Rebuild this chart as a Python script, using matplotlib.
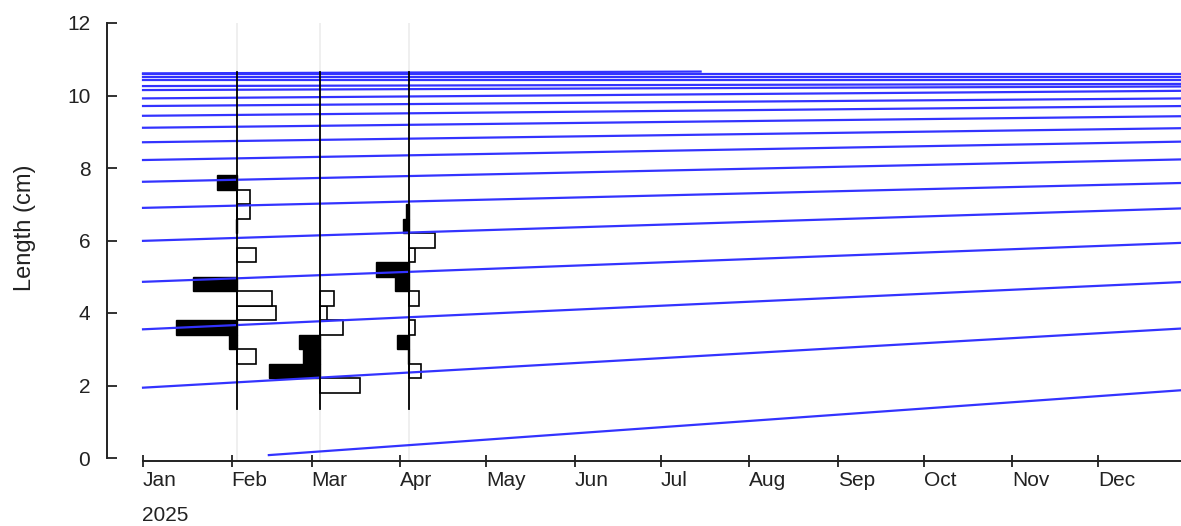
import numpy as np
import matplotlib
matplotlib.use('Agg')
import matplotlib.pyplot as plt
import matplotlib.dates as mdates

plt.rcParams['font.family'] = ['Liberation Sans', 'DejaVu Sans']

# length classes (mid points, cm), 0.4 cm wide
length_mids = [1.6, 2.0, 2.4, 2.8, 3.2, 3.6, 4.0, 4.4, 4.8, 5.2, 5.6, 6.0,
               6.4, 6.8, 7.2, 7.6, 8.0, 8.4, 8.8, 9.2, 9.6, 10.0, 10.4]
bin_width = 0.4

# restructured frequency scores per sampling date
sample_dates = ['2025-02-03', '2025-03-04', '2025-04-04']
score_feb = [0, 0, 0, 0.31, -0.13, -1.0, 0.63, 0.56, -0.73, 0, 0.31, 0,
             -0.03, 0.20, 0.21, -0.33, 0, 0, 0, 0, 0, 0, 0]
score_mar = [0, 0.65, -0.84, -0.28, -0.34, 0.37, 0.11, 0.22, 0, 0, 0, 0,
             0, 0, 0, 0, 0, 0, 0, 0, 0, 0, 0]
score_apr = [0, 0, 0.20, -0.02, -0.20, 0.10, 0, 0.16, -0.23, -0.53, 0.10, 0.42,
             -0.10, -0.04, 0, 0, 0, 0, 0, 0, 0, 0, 0]
scores = [score_feb, score_mar, score_apr]

# cohort growth curves (start/end date and length)
curve_start_dates = ['2025-02-14'] + ['2025-01-01'] * 18
curve_end_dates = ['2026-01-01'] * 18 + ['2025-07-15']
curve_start_len = [0.08, 1.94, 3.55, 4.86, 5.99, 6.90, 7.62, 8.22, 8.71, 9.11,
                   9.44, 9.71, 9.92, 10.15, 10.26, 10.43, 10.50, 10.59, 10.61]
curve_end_len = [1.88, 3.58, 4.86, 5.94, 6.89, 7.59, 8.24, 8.73, 9.10, 9.43,
                 9.71, 9.92, 10.13, 10.25, 10.32, 10.43, 10.50, 10.59, 10.66]

month_labels = ['Jan', 'Feb', 'Mar', 'Apr', 'May', 'Jun',
                'Jul', 'Aug', 'Sep', 'Oct', 'Nov', 'Dec']

W, H = 1181, 526
fig = plt.figure(figsize=(W / 100, H / 100), dpi=100)
ax = fig.add_axes([107 / W, (H - 461) / H, 1 - 107 / W, (461 - 23) / H])

jan1 = mdates.date2num(np.datetime64('2025-01-01'))
x_left = jan1 - 12.6
x_right = jan1 + 363.0
score_scale = 21.5  # days per unit score

mids = np.array(length_mids)
for d, sc in zip(sample_dates, scores):
    x0 = mdates.date2num(np.datetime64(d))
    sc = np.array(sc) * score_scale
    ax.axvline(x0, color='#ececec', lw=1.2, zorder=0)
    neg = sc < 0
    pos = sc > 0
    ax.barh(mids[neg], sc[neg], left=x0, height=bin_width,
            color='black', edgecolor='black', lw=1, zorder=2)
    ax.barh(mids[pos], sc[pos], left=x0, height=bin_width,
            facecolor='white', edgecolor='black', lw=1.2, zorder=2)
    ax.plot([x0, x0], [mids[0] - 0.25, mids[-1] + 0.25], color='black',
            lw=1.3, zorder=4)

for sd, ed, l0, l1 in zip(curve_start_dates, curve_end_dates,
                          curve_start_len, curve_end_len):
    xs = mdates.date2num([np.datetime64(sd), np.datetime64(ed)])
    ax.plot(xs, [l0, l1], color='#3333ff', lw=1.6, zorder=3)

ax.set_xlim(x_left, x_right)
ax.set_ylim(-3 / 36.25, 12)

month_ticks = mdates.date2num(np.arange('2025-01', '2026-01', dtype='datetime64[M]').astype('datetime64[D]'))
ax.set_xticks(month_ticks, labels=month_labels, ha='left')
ax.set_yticks([0, 2, 4, 6, 8, 10, 12])

for s in ['top', 'right']:
    ax.spines[s].set_visible(False)
ax.spines['left'].set_bounds(0, 12)
ax.spines['bottom'].set_bounds(jan1, x_right)
ax.spines['left'].set_linewidth(1.4)
ax.spines['bottom'].set_linewidth(1.4)
ax.spines['left'].set_color('#222222')
ax.spines['bottom'].set_color('#222222')

ax.tick_params(axis='x', direction='inout', length=8, width=1.3, pad=3,
               labelsize=15, colors='#222222')
ax.tick_params(axis='y', direction='in', length=7.5, width=1.3, pad=12,
               labelsize=15, colors='#222222')

fig.text(142 / W, 1 - 506 / H, '2025', ha='left', va='top', fontsize=15,
         color='#222222')
fig.text(25 / W, 1 - 228 / H, 'Length (cm)', rotation=90, ha='center',
         va='center', fontsize=17, color='#222222')

fig.savefig('out.png', dpi=100)
